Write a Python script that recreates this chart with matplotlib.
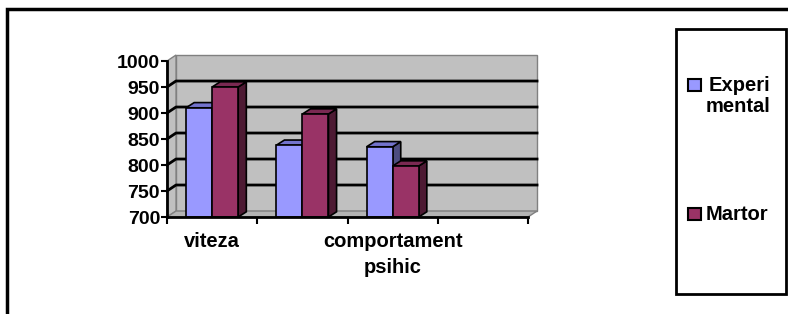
import numpy as np
import matplotlib
matplotlib.use('Agg')
import matplotlib.pyplot as plt
from matplotlib.patches import Polygon, Rectangle

plt.rcParams['font.family'] = ['Liberation Sans', 'DejaVu Sans']
plt.rcParams['font.weight'] = 'bold'

# data
categories = ["viteza", "", "comportament\npsihic", ""]
series_names = ["Experi\nmental", "Martor"]
experimental = [910, 838, 835]
martor = [950, 898, 798]
y_ticks = [700, 750, 800, 850, 900, 950, 1000]

front_cols = ['#9999FF', '#993366']
top_cols = ['#7373CC', '#7A2952']
side_cols = ['#4D4D80', '#4D1A33']

W, H = 788, 314
fig = plt.figure(figsize=(W / 100, H / 100), dpi=100)

def fx(px):
    return px / W

def fy(py):
    return 1 - py / H

ax = fig.add_axes([fx(167), fy(217), fx(528) - fx(167), fy(61) - fy(217)])
ax.set_xlim(0, len(categories))
ax.set_ylim(y_ticks[0], y_ticks[-1])
ax.patch.set_visible(False)

ymin, ymax = y_ticks[0], y_ticks[-1]
nx = len(categories)
wdx, wdy = 0.1, 11.5   # wall depth
bdx, bdy = 0.09, 10    # bar depth

#walls and floor
ax.add_patch(Polygon([(wdx, ymin + wdy), (nx + wdx, ymin + wdy), (nx + wdx, ymax + wdy), (wdx, ymax + wdy)],
                     fc='#C0C0C0', ec='#808080', lw=1, zorder=0, clip_on=False))
ax.add_patch(Polygon([(0, ymin), (wdx, ymin + wdy), (wdx, ymax + wdy), (0, ymax)],
                     fc='#C0C0C0', ec='#808080', lw=1, zorder=0, clip_on=False))
for t in y_ticks[1:-1]:
    ax.plot([0, wdx, nx + wdx], [t, t + wdy, t + wdy], color='black', lw=2, zorder=1, clip_on=False)
ax.add_patch(Polygon([(0, ymin), (nx, ymin), (nx + wdx, ymin + wdy), (wdx, ymin + wdy)],
                     fc='#B4B4B4', ec='#808080', lw=1, zorder=1.2, clip_on=False))

bw = 26 / 90.0

def bar3d(xs, vals, k, z):
    for x, v in zip(xs, vals):
        x0 = x - bw / 2
        x1 = x + bw / 2
        ax.add_patch(Polygon([(x1, ymin), (x1 + bdx, ymin + bdy), (x1 + bdx, v + bdy), (x1, v)],
                             fc=side_cols[k], ec='black', lw=1.2, zorder=z, clip_on=False))
        ax.add_patch(Polygon([(x0, v), (x1, v), (x1 + bdx, v + bdy), (x0 + bdx, v + bdy)],
                             fc=top_cols[k], ec='black', lw=1.2, zorder=z, clip_on=False))
    ax.bar(xs, np.array(vals) - ymin, bottom=ymin, width=bw, color=front_cols[k],
           edgecolor='black', lw=1.2, zorder=z + 0.1)

centers = np.arange(len(experimental)) + 0.5
bar3d(centers - bw / 2, experimental, 0, 3)
bar3d(centers + bw / 2, martor, 1, 4)

#axes lines
for s in ['top', 'right']:
    ax.spines[s].set_visible(False)
for s in ['left', 'bottom']:
    ax.spines[s].set_linewidth(2)
    ax.spines[s].set_zorder(5)

ax.set_yticks(y_ticks)
ax.set_yticklabels([str(t) for t in y_ticks], fontsize=14, fontweight='bold')
ax.tick_params(axis='y', direction='out', length=4, width=1.5, pad=1)
ax.set_xticks(range(nx + 1))
ax.set_xticklabels([''] * (nx + 1))
ax.tick_params(axis='x', which='major', direction='out', length=5, width=1.5)
ax.set_xticks(np.arange(nx) + 0.5, minor=True)
ax.set_xticklabels(categories, minor=True, fontsize=14.5, fontweight='bold', linespacing=1.45)
ax.tick_params(axis='x', which='minor', length=0, pad=11)

#outer frame
fig.add_artist(Rectangle((fx(7), -0.5), 1.0, fy(9) + 0.5, fill=False, lw=2.5,
                         ec='black', transform=fig.transFigure))

#legend box
fig.add_artist(Rectangle((fx(676), fy(294)), fx(786) - fx(676), fy(29) - fy(294), fill=False, lw=2,
                         ec='black', transform=fig.transFigure))
leg_y = [85, 214]
txt_y = [96, 214]
for k, name in enumerate(series_names):
    fig.add_artist(Rectangle((fx(688), fy(leg_y[k] + 6)), fx(13), fy(0) - fy(12),
                             fc=front_cols[k], ec='black', lw=1.5, transform=fig.transFigure))
    fig.text(fx(706), fy(txt_y[k]), name, fontsize=14.5, fontweight='bold', va='center',
             ha='left', multialignment='right', linespacing=1.1)

fig.savefig('out.png', dpi=100)
